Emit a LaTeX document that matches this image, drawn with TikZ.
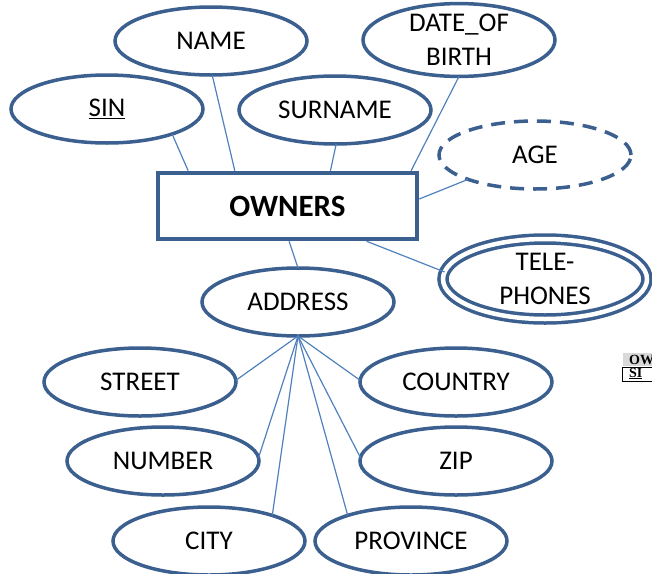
\documentclass[tikz,border=0pt]{standalone}
\usepackage{fontspec}
\setmainfont{Carlito}
\newfontfamily\fragfont{Liberation Serif}
\usetikzlibrary{shapes.geometric,calc}
\definecolor{erline}{HTML}{3B5F8E}
\definecolor{erlink}{HTML}{4F81BD}
\begin{document}
\begin{tikzpicture}[x=1pt,y=1pt,
  attr/.style={ellipse, draw=erline, line width=3.5pt, fill=white,
    minimum width=192pt, minimum height=68pt, inner sep=0pt, outer sep=0pt,
    align=center, font=\fontsize{27}{34}\selectfont},
  derived/.style={attr, dash pattern=on 14pt off 9pt},
  multi/.style={attr, double=white, double distance=4.5pt,
    minimum width=204pt, minimum height=80pt},
  entity/.style={rectangle, draw=erline, line width=4.5pt, fill=white,
    minimum width=259pt, minimum height=66pt, inner sep=0pt,
    font=\fontsize{31}{36}\selectfont\bfseries},
  link/.style={draw=erlink, line width=1.2pt}]
\useasboundingbox (0,0) rectangle (652,-573);

% entity
\node[entity] (owners) at (287.5,-206) {OWNERS};

% attributes of OWNERS
\node[attr] (sin) at (107,-109) {\underline{SIN}};
\node[attr] (name) at (211,-41) {NAME};
\node[attr] (surname) at (335,-110) {SURNAME};
\node[attr] (dob) at (459,-40) {DATE\_OF\\BIRTH};
\node[derived] (age) at (535,-155) {AGE};
\node[multi] (tel) at (545,-279) {TELE-\\PHONES};
\node[attr] (address) at (298,-302) {ADDRESS};

% components of ADDRESS
\node[attr] (street) at (140,-382) {STREET};
\node[attr] (number) at (163,-461) {NUMBER};
\node[attr] (city) at (209,-541) {CITY};
\node[attr] (country) at (456,-382) {COUNTRY};
\node[attr] (zip) at (456,-461) {ZIP};
\node[attr] (province) at (411,-541) {PROVINCE};

% connectors
\path[link] (sin.-21) -- ($(owners.north west)!0.123!(owners.north east)$);
\path[link] (name.-88) -- ($(owners.north west)!0.30!(owners.north east)$);
\path[link] (surname.-88) -- ($(owners.north west)!0.663!(owners.north east)$);
\path[link] (dob.-90) -- ($(owners.north west)!0.969!(owners.north east)$);
\path[link] (age.-160) -- ($(owners.east)+(0,7)$);
\path[link] (tel.176) -- ($(owners.south west)!0.80!(owners.south east)$);
\path[link] (address.90) -- ($(owners.south west)!0.506!(owners.south east)$);
\path[link] (address.-90) -- (street.1);
\path[link] (address.-90) -- (number.2);
\path[link] (address.-90) -- (city.22);
\path[link] (address.-90) -- (country.179);
\path[link] (address.-90) -- (zip.178);
\path[link] (address.-90) -- (province.158);

% table fragment at the right edge
\begin{scope}
  \clip (600,-340) rectangle (652,-400);
  \fill[black!15] (623,-353) rectangle (680,-366);
  \node[anchor=base west, inner sep=0pt, font=\fragfont\bfseries\fontsize{14}{16}\selectfont] (fragtop) at (629,-364.5) {OW};
  \draw[black, line width=0.9pt] (622,-367) rectangle (680,-381);
  \node[anchor=base west, inner sep=0pt, font=\fragfont\bfseries\fontsize{14}{16}\selectfont] (fragkey) at (629,-377) {\underline{SI}};
\end{scope}
\end{tikzpicture}
\end{document}
